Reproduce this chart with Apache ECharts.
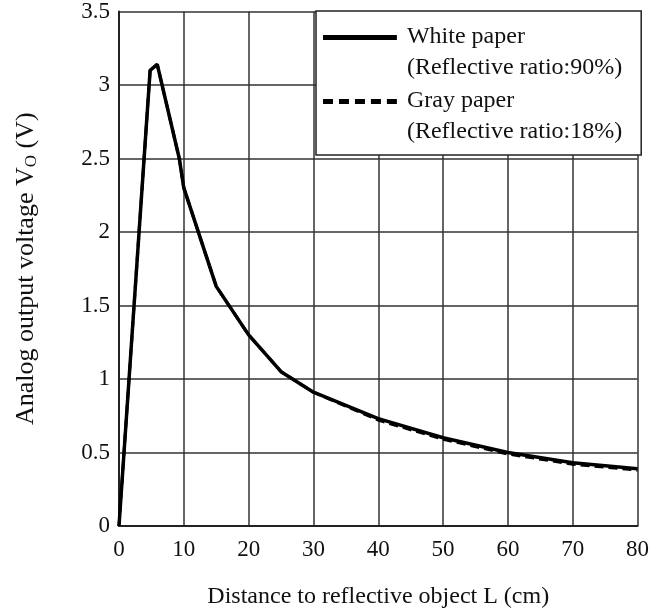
<!DOCTYPE html>
<html>
<head>
<meta charset="utf-8">
<script src="https://cdn.jsdelivr.net/npm/echarts@6/dist/echarts.min.js"></script>
<style>
  html, body { margin: 0; padding: 0; background: #fff; }
  #chart_main { width: 652px; height: 614px; }
</style>
</head>
<body>
<div id="chart_main"></div>
<script>
// distance L (cm) and output voltage Vo (V)
const distance = [0, 4.8, 5.9, 9.3, 10, 15, 20, 25, 30, 40, 50, 60, 70, 80];
const whitePaper = [0, 3.10, 3.14, 2.50, 2.30, 1.63, 1.30, 1.05, 0.91, 0.73, 0.60, 0.50, 0.43, 0.39];
const grayPaper = [0, 3.10, 3.14, 2.50, 2.30, 1.63, 1.30, 1.05, 0.91, 0.72, 0.59, 0.49, 0.42, 0.38];
const xTicks = [0, 10, 20, 30, 40, 50, 60, 70, 80];
const yTicks = [0, 0.5, 1, 1.5, 2, 2.5, 3, 3.5];
const seriesNames = ['White paper\n(Reflective ratio:90%)', 'Gray paper\n(Reflective ratio:18%)'];

const font = '"Liberation Serif", "DejaVu Serif", serif';

const pairs = (ys) => distance.map((d, i) => [d, ys[i]]);

// legend icons sit on the first text line: a tiny dot at the far corner stretches the path box
const solidIcon = 'path://M0,0h74v5h-74zM79,35h0.05v0.05h-0.05z';
const dashIcon = 'path://M0,0h10v5h-10zM16,0h10v5h-10zM32,0h10v5h-10zM48,0h10v5h-10zM64,0h10v5h-10zM79,35h0.05v0.05h-0.05z';

let myChart = echarts.init(document.getElementById('chart_main'));
myChart.setOption({
  animation: false,
  textStyle: { fontFamily: font, color: '#111' },
  grid: { left: 119, right: 12, top: 11, bottom: 87 },
  legend: {
    left: 316,
    top: 11,
    orient: 'vertical',
    backgroundColor: '#fff',
    borderColor: '#222',
    borderWidth: 1.5,
    padding: [10.5, 19, 7.5, 7],
    itemGap: 2,
    itemWidth: 79,
    itemHeight: 35,
    align: 'left',
    textStyle: { fontFamily: font, fontSize: 24, color: '#111', lineHeight: 31 },
    data: [
      { name: seriesNames[0], icon: solidIcon, itemStyle: { color: '#000' } },
      { name: seriesNames[1], icon: dashIcon, itemStyle: { color: '#000' } }
    ]
  },
  xAxis: {
    type: 'value',
    min: 0,
    max: 80,
    interval: 10,
    name: 'Distance to reflective object L (cm)',
    nameLocation: 'middle',
    nameGap: 59,
    nameTextStyle: { fontFamily: font, fontSize: 24, color: '#111' },
    axisLine: { lineStyle: { color: '#222', width: 2 } },
    axisTick: { show: false },
    axisLabel: {
      fontFamily: font, fontSize: 23, color: '#111', margin: 12,
      formatter: (v) => xTicks.includes(v) ? String(v) : ''
    },
    splitLine: { show: true, lineStyle: { color: '#333', width: 1.5 } }
  },
  yAxis: {
    type: 'value',
    min: 0,
    max: 3.5,
    interval: 0.5,
    name: 'Analog output voltage V{sub|O} (V)',
    nameLocation: 'middle',
    nameGap: 79,
    nameRotate: 90,
    nameTextStyle: {
      fontFamily: font, fontSize: 26, color: '#111',
      rich: { sub: { fontFamily: font, fontSize: 17, color: '#111', verticalAlign: 'bottom', padding: [10, 0, 0, 0] } }
    },
    axisLine: { show: true, lineStyle: { color: '#222', width: 2 } },
    axisTick: { show: false },
    axisLabel: {
      fontFamily: font, fontSize: 23, color: '#111', margin: 9,
      formatter: (v) => yTicks.includes(v) ? String(v) : ''
    },
    splitLine: { show: true, lineStyle: { color: '#333', width: 1.5 } }
  },
  series: [
    {
      name: seriesNames[0],
      type: 'line',
      showSymbol: false,
      symbol: 'none',
      z: 3,
      lineStyle: { color: '#000', width: 3.5 },
      itemStyle: { color: '#000' },
      data: pairs(whitePaper)
    },
    {
      name: seriesNames[1],
      type: 'line',
      showSymbol: false,
      symbol: 'none',
      z: 4,
      lineStyle: { color: '#000', width: 3, type: [9, 5] },
      itemStyle: { color: '#000' },
      data: pairs(grayPaper)
    }
  ]
});
</script>
</body>
</html>
